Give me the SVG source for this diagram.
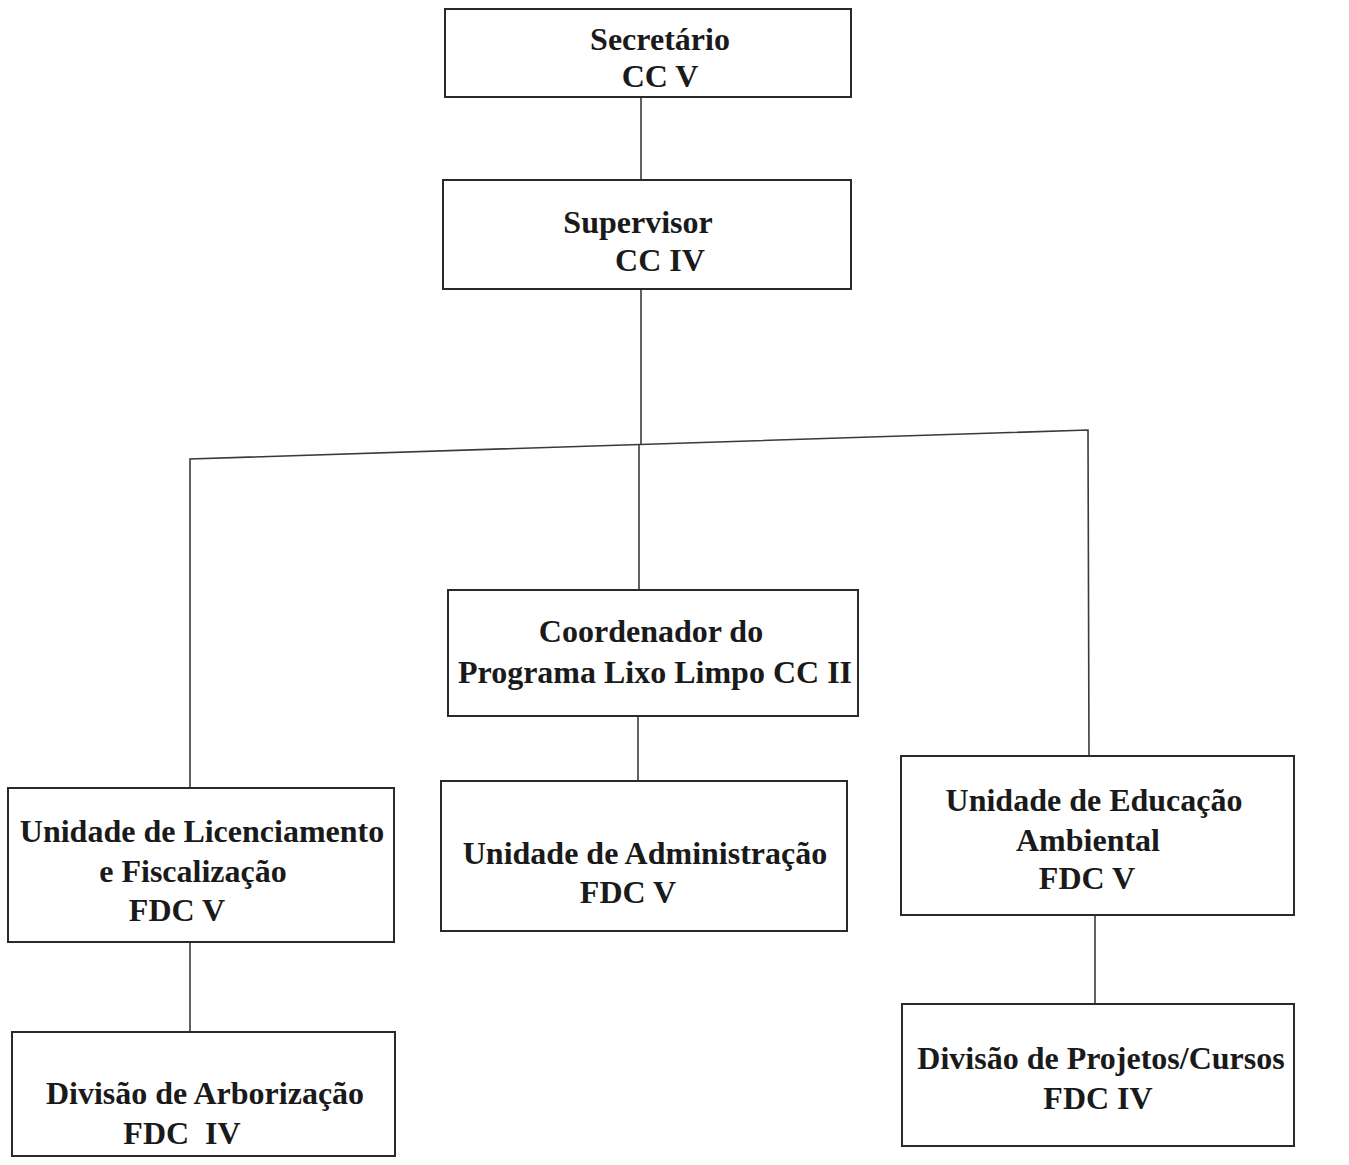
<svg xmlns="http://www.w3.org/2000/svg" width="1349" height="1165" viewBox="0 0 1349 1165">
<style>
.box{fill:none;stroke:#2a2a2a;stroke-width:2}
.t{font-family:"Liberation Serif","Times New Roman",serif;font-weight:bold;font-size:32px;fill:#1a1a1a;text-anchor:middle}
.c{fill:none;stroke:#3a3a3a;stroke-width:1.6}
</style>
<rect width="1349" height="1165" fill="#ffffff"/>
<g id="connectors">
<line class="c" x1="641" y1="97" x2="641" y2="179"/>
<line class="c" x1="641" y1="289" x2="641" y2="445"/>
<polyline class="c" points="190,787 190,459 1088,430 1089,755"/>
<line class="c" x1="639" y1="445" x2="639" y2="589"/>
<line class="c" x1="638" y1="716" x2="638" y2="780"/>
<line class="c" x1="190" y1="942" x2="190" y2="1031"/>
<line class="c" x1="1095" y1="915" x2="1095" y2="1003"/>
</g>
<g id="secretario">
<rect class="box" x="445" y="9" width="406" height="88"/>
<text class="t" x="660" y="50">Secretário</text>
<text class="t" x="660" y="87">CC V</text>
</g>
<g id="supervisor">
<rect class="box" x="443" y="180" width="408" height="109"/>
<text class="t" x="638" y="233">Supervisor</text>
<text class="t" x="660" y="271">CC IV</text>
</g>
<g id="coordenador">
<rect class="box" x="448" y="590" width="410" height="126"/>
<text class="t" x="651" y="642">Coordenador do</text>
<text class="t" x="655" y="683">Programa Lixo Limpo CC II</text>
</g>
<g id="licenciamento">
<rect class="box" x="8" y="788" width="386" height="154"/>
<text class="t" x="202" y="842">Unidade de Licenciamento</text>
<text class="t" x="193" y="882">e Fiscalização</text>
<text class="t" x="177" y="921">FDC V</text>
</g>
<g id="administracao">
<rect class="box" x="441" y="781" width="406" height="150"/>
<text class="t" x="645" y="864">Unidade de Administração</text>
<text class="t" x="628" y="903">FDC V</text>
</g>
<g id="educacao">
<rect class="box" x="901" y="756" width="393" height="159"/>
<text class="t" x="1094" y="811">Unidade de Educação</text>
<text class="t" x="1088" y="851">Ambiental</text>
<text class="t" x="1087" y="889">FDC V</text>
</g>
<g id="arborizacao">
<rect class="box" x="12" y="1032" width="383" height="124"/>
<text class="t" x="205" y="1104">Divisão de Arborização</text>
<text class="t" x="182" y="1144">FDC&#160; IV</text>
</g>
<g id="projetos">
<rect class="box" x="902" y="1004" width="392" height="142"/>
<text class="t" x="1101" y="1069">Divisão de Projetos/Cursos</text>
<text class="t" x="1098" y="1109">FDC IV</text>
</g>
</svg>
